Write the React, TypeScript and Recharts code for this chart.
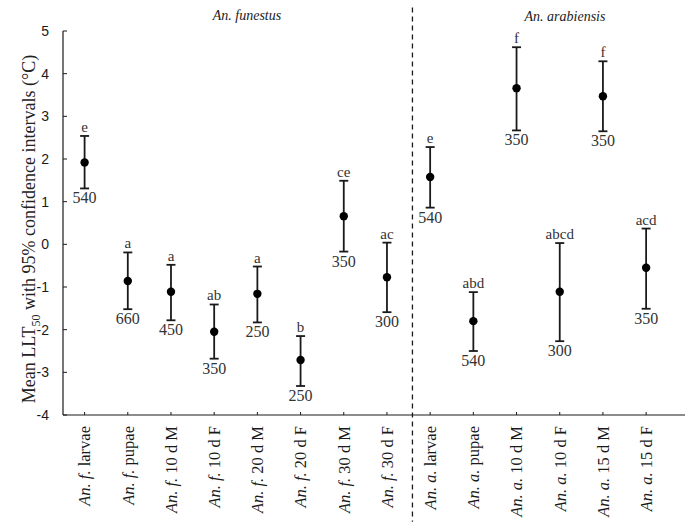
import React from "react";
import {
  ScatterChart,
  Scatter,
  XAxis,
  YAxis,
  ErrorBar,
  ReferenceLine,
} from "recharts";

const prefixes = ["An. f.", "An. f.", "An. f.", "An. f.", "An. f.", "An. f.", "An. f.", "An. f.", "An. a.", "An. a.", "An. a.", "An. a.", "An. a.", "An. a."];
const stages = ["larvae", "pupae", "10 d M", "10 d F", "20 d M", "20 d F", "30 d M", "30 d F", "larvae", "pupae", "10 d M", "10 d F", "15 d M", "15 d F"];
const means = [1.92, -0.86, -1.11, -2.05, -1.16, -2.71, 0.66, -0.77, 1.58, -1.8, 3.66, -1.11, 3.47, -0.55];
const uppers = [2.54, -0.19, -0.48, -1.41, -0.52, -2.15, 1.49, 0.04, 2.28, -1.12, 4.62, 0.03, 4.29, 0.37];
const lowers = [1.31, -1.52, -1.78, -2.68, -1.83, -3.32, -0.17, -1.59, 0.86, -2.5, 2.67, -2.27, 2.65, -1.51];
const letters = ["e", "a", "a", "ab", "a", "b", "ce", "ac", "e", "abd", "f", "abcd", "f", "acd"];
const counts = [540, 660, 450, 350, 250, 250, 350, 300, 540, 540, 350, 300, 350, 350];
const yTicks = [-4, -3, -2, -1, 0, 1, 2, 3, 4, 5];
const xTicks = [0, 1, 2, 3, 4, 5, 6, 7, 8, 9, 10, 11, 12, 13];
const groupDivider = 7.59;

const data = means.map((m, i) => ({
  x: i,
  y: m,
  err: [m - lowers[i], uppers[i] - m],
}));
const upperData = uppers.map((u, i) => ({ x: i, y: u, letter: letters[i] }));
const lowerData = lowers.map((l, i) => ({ x: i, y: l, n: counts[i] }));

const SERIF = "'Liberation Serif', 'Times New Roman', serif";
const SANS = "'Liberation Sans', Arial, sans-serif";
const INK = "#1a1a1a";

const XTick = (props: any) => {
  const { x, y, payload } = props;
  const i = payload.value;
  return (
    <g>
      <line x1={x} y1={y} x2={x} y2={y - 3} stroke={INK} strokeWidth={1} />
      <g transform={`translate(${x},${y + 11})`}>
        <text transform="rotate(-90)" textAnchor="end" dy="0.35em" style={{ fontFamily: SERIF, fontSize: 16.5 }} fill={INK}>
          <tspan fontStyle="italic">{prefixes[i]}</tspan>
          <tspan> {stages[i]}</tspan>
        </text>
      </g>
    </g>
  );
};

const YTick = (props: any) => {
  const { x, y, payload } = props;
  return (
    <g>
      <line x1={x} y1={y} x2={x + 4} y2={y} stroke={INK} strokeWidth={1} />
      <text x={x - 14} y={y} dy="0.35em" textAnchor="end" style={{ fontFamily: SANS, fontSize: 14 }} fill={INK}>
        {payload.value}
      </text>
    </g>
  );
};

const renderDot = (props: any) => <circle cx={props.cx} cy={props.cy} r={4.2} fill="#000" />;

const renderLetter = (props: any) => (
  <text x={props.cx} y={props.cy - 4} textAnchor="middle" style={{ fontFamily: SERIF, fontSize: 15 }} fill="#333">
    {props.payload.letter}
  </text>
);

const renderCount = (props: any) => (
  <text x={props.cx} y={props.cy + 15} textAnchor="middle" style={{ fontFamily: SERIF, fontSize: 16 }} fill="#333">
    {props.payload.n}
  </text>
);

export default function App() {
  return (
    <div style={{ position: "absolute", left: 0, top: 0, width: 685, height: 529, background: "#fff" }}>
      <ScatterChart width={685} height={529} margin={{ top: 31, right: 0, bottom: 0, left: 0 }}>
        <XAxis
          type="number"
          dataKey="x"
          domain={[-0.5, 13.9]}
          ticks={xTicks}
          interval={0}
          height={114}
          tickSize={0}
          tickMargin={0}
          tickLine={false}
          tick={<XTick />}
          axisLine={{ stroke: INK, strokeWidth: 1.2 }}
          allowDataOverflow
        />
        <YAxis
          type="number"
          dataKey="y"
          domain={[-4, 5]}
          ticks={yTicks}
          interval={0}
          width={63}
          tickSize={0}
          tickMargin={0}
          tickLine={false}
          tick={<YTick />}
          axisLine={{ stroke: INK, strokeWidth: 1.2 }}
          allowDataOverflow
        />
        <ReferenceLine
          segment={[
            { x: groupDivider, y: 5.55 },
            { x: groupDivider, y: -6.5 },
          ]}
          ifOverflow="visible"
          stroke={INK}
          strokeWidth={1.3}
          strokeDasharray="5 4"
        />
        <Scatter data={data} dataKey="y" shape={renderDot} isAnimationActive={false}>
          <ErrorBar dataKey="err" direction="y" width={4.5} stroke={INK} strokeWidth={1.8} isAnimationActive={false} />
        </Scatter>
        <Scatter data={upperData} dataKey="y" shape={renderLetter} isAnimationActive={false} />
        <Scatter data={lowerData} dataKey="y" shape={renderCount} isAnimationActive={false} />
      </ScatterChart>
      <svg width={685} height={529} style={{ position: "absolute", left: 0, top: 0, pointerEvents: "none" }}>
        <text x={247} y={20} textAnchor="middle" style={{ fontFamily: SERIF, fontStyle: "italic", fontSize: 14 }} fill="#222">
          An. funestus
        </text>
        <text x={565} y={21} textAnchor="middle" style={{ fontFamily: SERIF, fontStyle: "italic", fontSize: 14 }} fill="#222">
          An. arabiensis
        </text>
        <text
          transform="translate(35,229) rotate(-90)"
          textAnchor="middle"
          style={{ fontFamily: SERIF, fontSize: 18 }}
          fill="#222"
        >
          Mean LLT<tspan fontSize={12} dy={5}>50</tspan>
          <tspan dy={-5}> with 95% confidence intervals (°C)</tspan>
        </text>
      </svg>
    </div>
  );
}
